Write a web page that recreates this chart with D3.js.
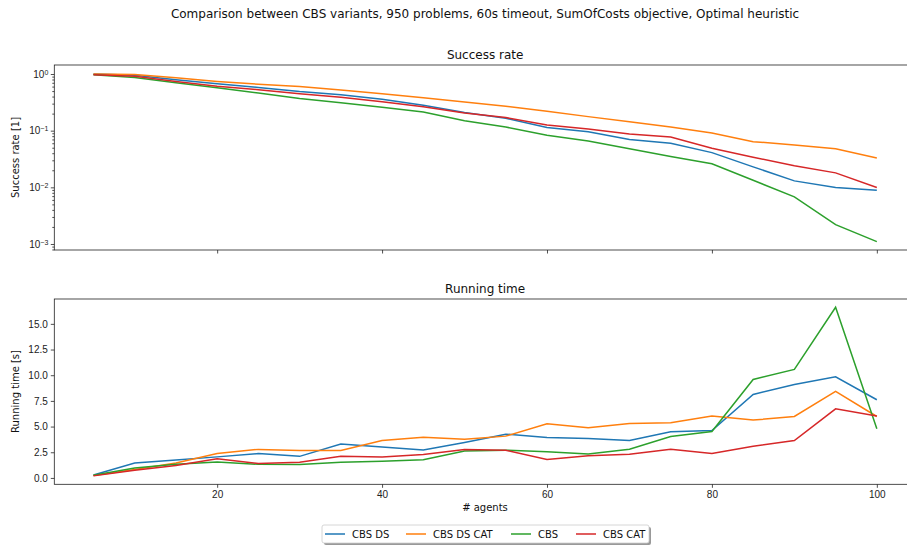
<!DOCTYPE html>
<html>
<head>
<meta charset="utf-8">
<script src="https://cdn.jsdelivr.net/npm/d3@7"></script>
<style>
  body { margin: 0; background: #fff; }
  svg { display: block; font-family: "DejaVu Sans", sans-serif; }
  .tick text { fill: #222; font-size: 10px; }
  .domain, .tick line { stroke: #222; stroke-width: 0.8; }
</style>
</head>
<body>
<svg id="chart" width="907" height="549"></svg>
<script>
// number of agents
const agents = [5, 10, 15, 20, 25, 30, 35, 40, 45, 50, 55, 60, 65, 70, 75, 80, 85, 90, 95, 100];
const seriesNames = ["CBS DS", "CBS DS CAT", "CBS", "CBS CAT"];
const seriesColors = ["#1f77b4", "#ff7f0e", "#2ca02c", "#d62728"];

// success rate [1]
const successDS    = [1.0, 0.95, 0.79, 0.67, 0.58, 0.49, 0.43, 0.357, 0.28, 0.21, 0.165, 0.114, 0.096, 0.070, 0.060, 0.041, 0.023, 0.013, 0.0099, 0.0089];
const successDSCAT = [1.0, 0.98, 0.86, 0.74, 0.66, 0.60, 0.52, 0.45, 0.38, 0.32, 0.27, 0.22, 0.177, 0.144, 0.116, 0.091, 0.064, 0.056, 0.048, 0.033];
const successCBS   = [0.97, 0.87, 0.70, 0.57, 0.46, 0.37, 0.31, 0.26, 0.214, 0.15, 0.116, 0.083, 0.066, 0.048, 0.035, 0.026, 0.0133, 0.0068, 0.0022, 0.0011];
const successCAT   = [0.97, 0.91, 0.74, 0.61, 0.53, 0.45, 0.39, 0.325, 0.265, 0.205, 0.17, 0.126, 0.107, 0.087, 0.077, 0.049, 0.034, 0.024, 0.018, 0.0099];

// running time [s]
const timeDS    = [0.28, 1.46, 1.75, 2.05, 2.37, 2.1, 3.3, 3.0, 2.73, 3.45, 4.26, 3.93, 3.84, 3.64, 4.49, 4.62, 8.13, 9.1, 9.85, 7.61];
const timeDSCAT = [0.23, 0.82, 1.45, 2.38, 2.78, 2.67, 2.67, 3.64, 3.97, 3.77, 4.07, 5.27, 4.88, 5.3, 5.37, 6.02, 5.63, 5.98, 8.42, 5.98];
const timeCBS   = [0.26, 0.97, 1.34, 1.56, 1.32, 1.3, 1.53, 1.63, 1.76, 2.63, 2.7, 2.54, 2.34, 2.8, 4.03, 4.52, 9.59, 10.57, 16.62, 4.78];
const timeCAT   = [0.2, 0.75, 1.22, 1.87, 1.4, 1.53, 2.11, 2.05, 2.28, 2.76, 2.7, 1.79, 2.15, 2.31, 2.8, 2.37, 3.09, 3.64, 6.73, 6.02];

const successSeries = [successDS, successDSCAT, successCBS, successCAT];
const timeSeries = [timeDS, timeDSCAT, timeCBS, timeCAT];

const xTicks = [20, 40, 60, 80, 100];
const timeTicks = [0, 2.5, 5, 7.5, 10, 12.5, 15];
const logTicks = [1e-3, 1e-2, 1e-1, 1];

const svg = d3.select("#chart");
svg.append("rect").attr("width", 907).attr("height", 549).attr("fill", "#fff");

const left = 54.3, right = 916;
const x = d3.scaleLinear().domain([0.25, 104.75]).range([left, right]);
const yTop = d3.scaleLog().domain([Math.pow(10, -3.106), Math.pow(10, 0.159)]).range([250, 65]);
const yBot = d3.scaleLinear().domain([-0.62, 17.42]).range([484.3, 299]);

// suptitle
svg.append("text").attr("x", 485).attr("y", 18).attr("text-anchor", "middle")
  .attr("font-size", 12).attr("fill", "#111")
  .text("Comparison between CBS variants, 950 problems, 60s timeout, SumOfCosts objective, Optimal heuristic");

function frame(y0, y1, title) {
  const g = svg.append("g");
  g.append("rect").attr("x", left).attr("y", y0).attr("width", right - left).attr("height", y1 - y0)
    .attr("fill", "none").attr("stroke", "#222").attr("stroke-width", 0.8);
  svg.append("text").attr("x", (left + right) / 2).attr("y", y0 - 6).attr("text-anchor", "middle")
    .attr("font-size", 12).attr("fill", "#111").text(title);
}

// ---- top: success rate ----
frame(65, 250, "Success rate");
const gxTop = svg.append("g").attr("transform", "translate(0,250)")
  .call(d3.axisBottom(x).tickValues(xTicks).tickSize(3.5).tickFormat(""));
gxTop.select(".domain").remove();

const minor = [];
for (let e = -4; e <= 0; e++) for (let m = 2; m <= 9; m++) {
  const v = m * Math.pow(10, e);
  if (v >= yTop.domain()[0] && v <= yTop.domain()[1]) minor.push(v);
}
const gyMinor = svg.append("g").attr("transform", `translate(${left},0)`)
  .call(d3.axisLeft(yTop).tickValues(minor).tickSize(2).tickFormat(""));
gyMinor.select(".domain").remove();
gyMinor.selectAll(".tick line").attr("stroke-width", 0.6);

const gyTop = svg.append("g").attr("transform", `translate(${left},0)`)
  .call(d3.axisLeft(yTop).tickValues(logTicks).tickSize(3.5).tickFormat(""));
gyTop.select(".domain").remove();
gyTop.selectAll(".tick").each(function(d) {
  const t = d3.select(this).append("text").attr("x", -6).attr("dy", "0.32em")
    .attr("text-anchor", "end").attr("fill", "#222").attr("font-size", 10);
  t.append("tspan").text("10");
  t.append("tspan").attr("dy", "-0.45em").attr("font-size", 7).text(String(Math.round(Math.log10(d))).replace("-", "\u2212"));
});

svg.append("text").attr("transform", "translate(19,157.5) rotate(-90)").attr("text-anchor", "middle")
  .attr("font-size", 10).attr("fill", "#111").text("Success rate [1]");

const lineTop = d3.line().x((d, i) => x(agents[i])).y(d => yTop(d));
svg.append("g").selectAll("path").data(successSeries).join("path")
  .attr("d", lineTop).attr("fill", "none").attr("stroke-width", 1.5)
  .attr("stroke", (d, i) => seriesColors[i]);

// ---- bottom: running time ----
frame(299, 484.3, "Running time");
const gxBot = svg.append("g").attr("transform", "translate(0,484.3)")
  .call(d3.axisBottom(x).tickValues(xTicks).tickSize(3.5).tickPadding(3));
gxBot.select(".domain").remove();

const gyBot = svg.append("g").attr("transform", `translate(${left},0)`)
  .call(d3.axisLeft(yBot).tickValues(timeTicks).tickSize(3.5).tickPadding(3).tickFormat(d3.format(".1f")));
gyBot.select(".domain").remove();

svg.append("text").attr("transform", "translate(19,391.5) rotate(-90)").attr("text-anchor", "middle")
  .attr("font-size", 10).attr("fill", "#111").text("Running time [s]");
svg.append("text").attr("x", 485).attr("y", 511).attr("text-anchor", "middle")
  .attr("font-size", 10).attr("fill", "#111").text("# agents");

const lineBot = d3.line().x((d, i) => x(agents[i])).y(d => yBot(d));
svg.append("g").selectAll("path").data(timeSeries).join("path")
  .attr("d", lineBot).attr("fill", "none").attr("stroke-width", 1.5)
  .attr("stroke", (d, i) => seriesColors[i]);

// ---- legend ----
const lg = svg.append("g");
lg.append("rect").attr("x", 324).attr("y", 527).attr("width", 327).attr("height", 18)
  .attr("rx", 2).attr("fill", "#999");
lg.append("rect").attr("x", 322).attr("y", 525).attr("width", 327).attr("height", 18)
  .attr("rx", 2).attr("fill", "#fff").attr("stroke", "#ccc").attr("stroke-width", 0.8);
const itemX = [325, 406, 511, 576];
const items = lg.selectAll("g.item").data(seriesNames).join("g").attr("class", "item")
  .attr("transform", (d, i) => `translate(${itemX[i]},534)`);
items.append("line").attr("x1", 0).attr("x2", 20).attr("stroke-width", 1.5)
  .attr("stroke", (d, i) => seriesColors[i]);
items.append("text").attr("x", 27).attr("dy", "0.35em").attr("font-size", 10).attr("fill", "#111")
  .text(d => d);
</script>
</body>
</html>
